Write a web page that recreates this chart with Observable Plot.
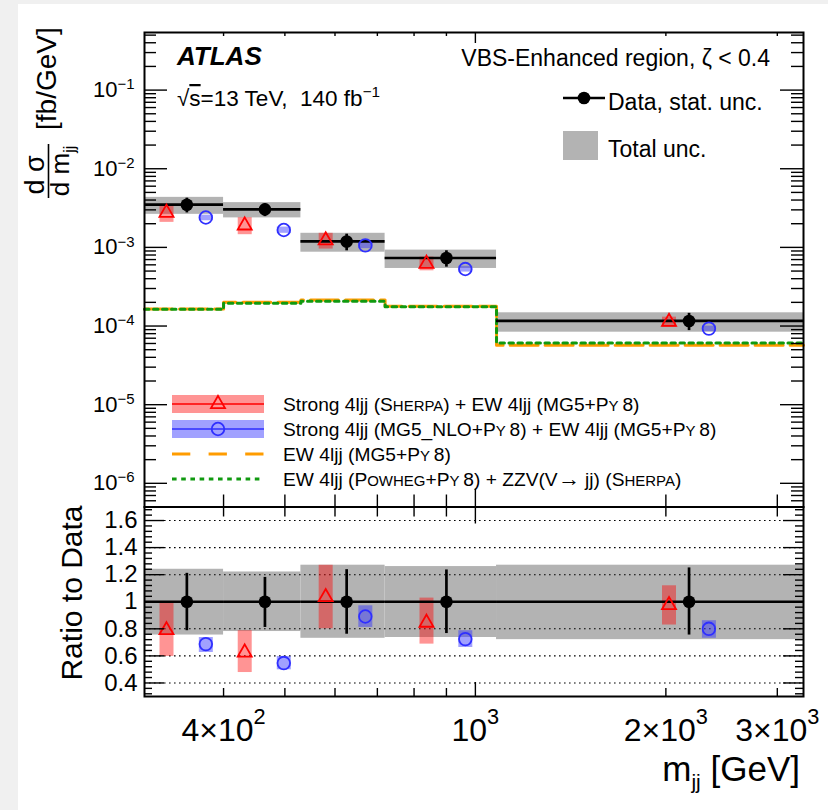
<!DOCTYPE html>
<html><head><meta charset="utf-8">
<script src="https://cdn.jsdelivr.net/npm/d3@7"></script>
<script src="https://cdn.jsdelivr.net/npm/@observablehq/plot@0.6"></script>
<style>
body{margin:0;background:#f0f0f0;}
#wrap{position:relative;width:828px;height:810px;background:#f0f0f0;overflow:hidden}
#card{position:absolute;left:18px;top:4px;right:0;bottom:0;background:#fff}
#wrap svg{position:absolute;left:0;top:0;}
</style></head><body><div id="wrap"><div id="card"></div></div>
<script>
// ---------------- data ----------------
const binLo = [300, 400, 530, 720, 1080];
const binHi = [400, 530, 720, 1080, 3300];
const xData = [350, 465, 626, 900, 2176];
const xSherpa = [325, 432, 580, 837, 2023];
const xMG = [375, 498, 670, 964, 2339];
const dataXsec = [3.49e-3, 3.04e-3, 1.19e-3, 7.33e-4, 1.16e-4];
const statUp = [1.21, 1.18, 1.237, 1.235, 1.25];
const statDn = [0.786, 0.81, 0.76, 0.765, 0.754];
const totUp = [1.24, 1.22, 1.27, 1.26, 1.27];
const totDn = [0.754, 0.78, 0.73, 0.736, 0.72];
const sherpaRatio = [0.79, 0.625, 1.035, 0.845, 0.975];
const sherpaUp = [0.99, 0.786, 1.27, 1.027, 1.118];
const sherpaDn = [0.596, 0.477, 0.80, 0.687, 0.828];
const mgRatio = [0.687, 0.547, 0.891, 0.724, 0.80];
const mgUp = [0.736, 0.596, 0.97, 0.786, 0.86];
const mgDn = [0.625, 0.497, 0.81, 0.662, 0.73];
const ewMG = [1.65e-4, 2.0e-4, 2.15e-4, 1.78e-4, 5.7e-5];
const ewPowheg = [1.63e-4, 1.95e-4, 2.06e-4, 1.76e-4, 6.1e-5];

const yMajorTop = [1e-6, 1e-5, 1e-4, 1e-3, 1e-2, 1e-1];
const yLabelsTop = ["10^-6", "10^-5", "10^-4", "10^-3", "10^-2", "10^-1"];
const ratioMajor = [0.4, 0.6, 0.8, 1.0, 1.2, 1.4, 1.6];
const ratioLabels = ["0.4", "0.6", "0.8", "1", "1.2", "1.4", "1.6"];
const xMinor = [400, 500, 600, 700, 800, 900, 2000, 3000];
const xMajor = [1000];
const xLabelTicks = [400, 1000, 2000, 3000];
const xLabels = ["4\u00d710^2", "10^3", "2\u00d710^3", "3\u00d710^3"];

// ---------------- derived tables ----------------
const bins = binLo.map((lo, i) => ({
  lo, hi: binHi[i], xd: xData[i], xs: xSherpa[i], xm: xMG[i], d: dataXsec[i],
  statUp: statUp[i], statDn: statDn[i], totUp: totUp[i], totDn: totDn[i],
  sr: sherpaRatio[i], sUp: sherpaUp[i], sDn: sherpaDn[i],
  mr: mgRatio[i], mUp: mgUp[i], mDn: mgDn[i]
}));
const ewSteps = binLo.map((lo, i) => ({x: lo, mg: ewMG[i], pw: ewPowheg[i]}));
ewSteps.push({x: binHi[binHi.length - 1], mg: ewMG[ewMG.length - 1], pw: ewPowheg[ewPowheg.length - 1]});
const yMinorTop = [];
for (let k = -7; k <= -1; k++) for (let m = 2; m <= 9; m++) { const v = m * Math.pow(10, k); if (v > 5e-7 && v < 0.54) yMinorTop.push(v); }
const ratioMinor = [];
for (let i = 0; i <= 34; i++) { const v = +(0.32 + 0.04 * i).toFixed(2); if (!ratioMajor.some(m => Math.abs(m - v) < 1e-6)) ratioMinor.push(v); }

// ---------------- style ----------------
const FONT = "'Liberation Sans', Arial, Helvetica, sans-serif";
const GRAY = "#b3b3b3", ORANGE = "#ff9c00", GREEN = "#109a10", RED = "#ff0000", BLUE = "#2f2fff";
const W = 828, H = 810, mL = 144, mR = 25, topT = 32, split = 506.5, botB = 696;
const plotW = W - mL - mR, topH = split - topT, ratH = botB - split;

function yTicksLR(vals, len, sw) {
  return [
    Plot.tickY(vals, {y: d => d, insetRight: plotW - len, stroke: "black", strokeWidth: sw}),
    Plot.tickY(vals, {y: d => d, insetLeft: plotW - len, stroke: "black", strokeWidth: sw})
  ];
}

// ---------------- top panel ----------------
const topPlot = Plot.plot({
  width: W, height: H, marginLeft: mL, marginRight: mR, marginTop: topT, marginBottom: H - split,
  style: {background: "transparent", fontFamily: FONT, color: "black", overflow: "visible"},
  x: {type: "log", domain: [300, 3300], axis: null},
  y: {type: "log", domain: [5e-7, 0.54], axis: null},
  marks: [
    Plot.rect(bins, {x1: "lo", x2: "hi", y1: d => d.d * d.totDn, y2: d => d.d * d.totUp, fill: GRAY}),
    Plot.line(ewSteps, {x: "x", y: "mg", curve: "step-after", stroke: ORANGE, strokeWidth: 3, strokeDasharray: "28,7"}),
    Plot.line(ewSteps, {x: "x", y: "pw", curve: "step-after", stroke: GREEN, strokeWidth: 3, strokeDasharray: "4.5,4.5"}),
    Plot.ruleX(bins, {x: "xs", y1: d => d.d * d.sDn, y2: d => d.d * d.sUp, stroke: RED, strokeOpacity: 0.42, strokeWidth: 14}),
    Plot.ruleX(bins, {x: "xm", y1: d => d.d * d.mDn, y2: d => d.d * d.mUp, stroke: BLUE, strokeOpacity: 0.45, strokeWidth: 14}),
    Plot.ruleY(bins, {x1: "lo", x2: "hi", y: "d", stroke: "black", strokeWidth: 2.7}),
    Plot.ruleX(bins, {x: "xd", y1: d => d.d * d.statDn, y2: d => d.d * d.statUp, stroke: "black", strokeWidth: 2.7}),
    Plot.dot(bins, {x: "xd", y: "d", r: 6.3, fill: "black", stroke: null}),
    Plot.dot(bins, {x: "xs", y: d => d.d * d.sr, symbol: "triangle", r: 5.2, stroke: RED, strokeWidth: 1.8, fill: "none"}),
    Plot.dot(bins, {x: "xm", y: d => d.d * d.mr, r: 6.3, stroke: BLUE, strokeWidth: 1.8, fill: "none"}),
    ...yTicksLR(yMajorTop, 23, 1.4),
    ...yTicksLR(yMinorTop, 12, 1.4),
    Plot.tickX(xMinor, {x: d => d, insetBottom: topH - 4, stroke: "black", strokeWidth: 1.4}),
    Plot.tickX(xMajor, {x: d => d, insetBottom: topH - 11, stroke: "black", strokeWidth: 1.4}),
    Plot.tickX(xMinor, {x: d => d, insetTop: topH - 12, stroke: "black", strokeWidth: 1.4}),
    Plot.tickX(xMajor, {x: d => d, insetTop: topH - 18, stroke: "black", strokeWidth: 1.4}),
    Plot.axisY({ticks: yMajorTop, tickSize: 0, tickPadding: 10, fontSize: 22, label: null,
      tickFormat: d => yLabelsTop[yMajorTop.findIndex(v => Math.abs(Math.log10(v) - Math.log10(d)) < 1e-6)]}),
    Plot.frame({stroke: "black", strokeWidth: 2})
  ]
});

// ---------------- ratio panel ----------------
const ratioPlot = Plot.plot({
  width: W, height: H, marginLeft: mL, marginRight: mR, marginTop: split, marginBottom: H - botB,
  style: {background: "transparent", fontFamily: FONT, color: "black", overflow: "visible"},
  x: {type: "log", domain: [300, 3300], axis: null},
  y: {domain: [0.3, 1.7], axis: null},
  marks: [
    Plot.rect(bins, {x1: "lo", x2: "hi", y1: "totDn", y2: "totUp", fill: GRAY}),
    Plot.ruleY(ratioMajor, {y: d => d, stroke: "black", strokeWidth: 1.1, strokeDasharray: "1.6,3.4"}),
    Plot.ruleX(bins, {x: "xs", y1: "sDn", y2: "sUp", stroke: RED, strokeOpacity: 0.42, strokeWidth: 14}),
    Plot.ruleX(bins, {x: "xm", y1: "mDn", y2: "mUp", stroke: BLUE, strokeOpacity: 0.45, strokeWidth: 14}),
    Plot.ruleY(bins, {x1: "lo", x2: "hi", y: 1, stroke: "black", strokeWidth: 2.7}),
    Plot.ruleX(bins, {x: "xd", y1: "statDn", y2: "statUp", stroke: "black", strokeWidth: 2.7}),
    Plot.dot(bins, {x: "xd", y: 1, r: 6.3, fill: "black", stroke: null}),
    Plot.dot(bins, {x: "xs", y: "sr", symbol: "triangle", r: 5.2, stroke: RED, strokeWidth: 1.8, fill: "none"}),
    Plot.dot(bins, {x: "xm", y: "mr", r: 6.3, stroke: BLUE, strokeWidth: 1.8, fill: "none"}),
    ...yTicksLR(ratioMajor, 20, 1.4),
    ...yTicksLR(ratioMinor, 8, 1.4),
    Plot.tickX(xMinor, {x: d => d, insetBottom: ratH - 10, stroke: "black", strokeWidth: 1.4}),
    Plot.tickX(xMajor, {x: d => d, insetBottom: ratH - 17, stroke: "black", strokeWidth: 1.4}),
    Plot.tickX(xMinor, {x: d => d, insetTop: ratH - 8, stroke: "black", strokeWidth: 1.4}),
    Plot.tickX(xMajor, {x: d => d, insetTop: ratH - 14, stroke: "black", strokeWidth: 1.4}),
    Plot.axisY({ticks: ratioMajor, tickSize: 0, tickPadding: 7, fontSize: 24, label: null,
      tickFormat: d => ratioLabels[ratioMajor.findIndex(v => Math.abs(v - d) < 1e-6)]}),
    Plot.axisX({ticks: xLabelTicks, tickSize: 0, tickPadding: 22, fontSize: 32, label: null,
      tickFormat: d => xLabels[xLabelTicks.indexOf(d)]}),
    Plot.frame({stroke: "black", strokeWidth: 2})
  ]
});

const wrap = document.getElementById("wrap");
wrap.appendChild(ratioPlot);
wrap.appendChild(topPlot);

// ---------------- rich text helpers ----------------
function rich(sel, parts, size, supRaise = 0.42) {
  let shift = 0;
  for (const p of parts) {
    const ts = sel.append("tspan").text(p.t);
    let target = 0, fs = size;
    if (p.sc) fs = size * 0.78;
    if (p.big) fs = size * 1.15;
    if (p.sup) { fs = size * 0.68; target = -supRaise * size; }
    if (p.sub) { fs = size * 0.6; target = 0.22 * size; }
    ts.attr("font-size", fs);
    if (Math.abs(target - shift) > 1e-6) { ts.attr("dy", target - shift); shift = target; }
    if (p.over) ts.attr("text-decoration", "overline");
  }
}
function supify(svg, size, raise) {
  d3.select(svg).selectAll("text").each(function () {
    const t = this.textContent;
    if (!t || !t.includes("^")) return;
    const [base, exp] = t.split("^");
    const s = d3.select(this);
    s.text(null);
    rich(s, [{t: base}, {t: exp.replace("-", "\u2212"), sup: true}], size, raise);
  });
}
supify(topPlot, 22, 0.36);
supify(ratioPlot, 32, 0.54);

function addText(svg, x, y, parts, {size = 20, anchor = "start", weight = "normal", style = "normal", rotate = false, raise = 0.42} = {}) {
  const t = d3.select(svg).append("text")
    .attr("transform", `translate(${x},${y})` + (rotate ? " rotate(-90)" : ""))
    .attr("text-anchor", anchor).attr("font-family", FONT)
    .attr("font-weight", weight).attr("font-style", style).attr("fill", "black");
  rich(t, typeof parts === "string" ? [{t: parts}] : parts, size, raise);
  return t;
}

const S = topPlot;
// labels in the top panel
addText(S, 177, 65, "ATLAS", {size: 26, weight: "bold", style: "italic"});
addText(S, 177, 106, [{t: "\u221a"}, {t: "s", over: true}, {t: "=13 TeV,  140 fb"}, {t: "\u22121", sup: true}], {size: 22.5});
addText(S, 770, 66, "VBS-Enhanced region, \u03b6 < 0.4", {size: 23, anchor: "end"});

// top-right legend
const sg = d3.select(S);
sg.append("line").attr("x1", 563).attr("x2", 605).attr("y1", 98).attr("y2", 98).attr("stroke", "black").attr("stroke-width", 2.7);
sg.append("circle").attr("cx", 584).attr("cy", 98).attr("r", 6.3).attr("fill", "black");
addText(S, 608, 110, "Data, stat. unc.", {size: 23});
sg.append("rect").attr("x", 563).attr("y", 131).attr("width", 35).attr("height", 29).attr("fill", GRAY);
addText(S, 608, 157, "Total unc.", {size: 23});

// bottom-left legend
const lx1 = 172, lx2 = 264, lxm = 218, ltx = 283;
const rows = [404, 429, 454, 479];
sg.append("rect").attr("x", lx1).attr("y", rows[0] - 9).attr("width", lx2 - lx1).attr("height", 18).attr("fill", RED).attr("fill-opacity", 0.42);
sg.append("line").attr("x1", lx1).attr("x2", lx2).attr("y1", rows[0]).attr("y2", rows[0]).attr("stroke", RED).attr("stroke-width", 1.5);
sg.append("path").attr("d", d3.symbol(d3.symbolTriangle, 5.2 * 5.2 * Math.PI)()).attr("transform", `translate(${lxm},${rows[0]})`).attr("fill", "none").attr("stroke", RED).attr("stroke-width", 1.8);
sg.append("rect").attr("x", lx1).attr("y", rows[1] - 9).attr("width", lx2 - lx1).attr("height", 18).attr("fill", BLUE).attr("fill-opacity", 0.45);
sg.append("line").attr("x1", lx1).attr("x2", lx2).attr("y1", rows[1]).attr("y2", rows[1]).attr("stroke", BLUE).attr("stroke-width", 1.5);
sg.append("circle").attr("cx", lxm).attr("cy", rows[1]).attr("r", 6.3).attr("fill", "none").attr("stroke", BLUE).attr("stroke-width", 1.8);
sg.append("line").attr("x1", lx1).attr("x2", lx2).attr("y1", rows[2]).attr("y2", rows[2]).attr("stroke", ORANGE).attr("stroke-width", 3).attr("stroke-dasharray", "18.3,18.3");
sg.append("line").attr("x1", lx1).attr("x2", lx2).attr("y1", rows[3]).attr("y2", rows[3]).attr("stroke", GREEN).attr("stroke-width", 3).attr("stroke-dasharray", "4.6,4.6");
const LS = 19.2, sc = true;
addText(S, ltx, rows[0] + 6.5, [{t: "Strong 4ljj (S"}, {t: "HERPA", sc}, {t: ") + EW 4ljj (MG5+P"}, {t: "Y", sc}, {t: "\u20098)"}], {size: LS});
addText(S, ltx, rows[1] + 6.5, [{t: "Strong 4ljj (MG5_NLO+P"}, {t: "Y", sc}, {t: "\u20098) + EW 4ljj (MG5+P"}, {t: "Y", sc}, {t: "\u20098)"}], {size: LS});
addText(S, ltx, rows[2] + 6.5, [{t: "EW 4ljj (MG5+P"}, {t: "Y", sc}, {t: "\u20098)"}], {size: LS});
addText(S, ltx, rows[3] + 6.5, [{t: "EW 4ljj (P"}, {t: "OWHEG", sc}, {t: "+P"}, {t: "Y", sc}, {t: "\u20098) + ZZV(V"}, {t: "\u2192", big: true}, {t: " jj) (S"}, {t: "HERPA", sc}, {t: ")"}], {size: LS});

// y-axis title of top panel: d sigma / d m_jj [fb/GeV]
addText(S, 44, 175, "d \u03c3", {size: 27, rotate: true, anchor: "middle"});
sg.append("line").attr("x1", 48.5).attr("x2", 48.5).attr("y1", 144).attr("y2", 198).attr("stroke", "black").attr("stroke-width", 1.6);
addText(S, 69, 171, [{t: "d m"}, {t: "jj", sub: true}], {size: 26, rotate: true, anchor: "middle"});
addText(S, 56, 130, "[fb/GeV]", {size: 28, rotate: true});

// ratio panel titles
const R = ratioPlot;
addText(R, 82, 593, "Ratio to Data", {size: 30, rotate: true, anchor: "middle"});
addText(R, 800, 781, [{t: "m"}, {t: "jj", sub: true}, {t: " [GeV]"}], {size: 35, anchor: "end"});
</script></body></html>
